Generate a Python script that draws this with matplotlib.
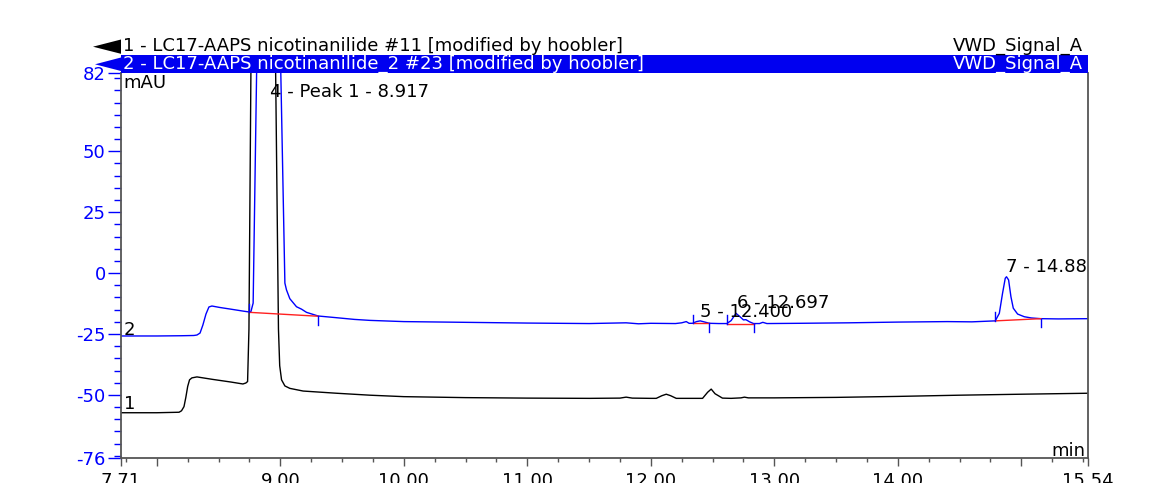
import matplotlib
matplotlib.use('Agg')
import matplotlib.pyplot as plt
from matplotlib.patches import Rectangle, Polygon
from matplotlib.ticker import FixedLocator, MultipleLocator

# ---------------- data ----------------
trace1_name = "1 - LC17-AAPS nicotinanilide #11 [modified by hoobler]"
trace2_name = "2 - LC17-AAPS nicotinanilide_2 #23 [modified by hoobler]"
signal_name = "VWD_Signal_A"

t1 = [7.71, 8.00, 8.18, 8.20, 8.22, 8.235, 8.25, 8.265, 8.284, 8.325,
      8.45, 8.60, 8.697, 8.721, 8.735, 8.746, 8.762, 8.80, 8.87, 8.93,
      8.962, 8.985, 8.995, 9.010, 9.037, 9.077, 9.185, 9.455, 9.725, 10.0,
      10.5, 11.0, 11.5, 11.75, 11.8, 11.85, 12.0, 12.044, 12.09, 12.125,
      12.16, 12.206, 12.30, 12.419, 12.46, 12.489, 12.52, 12.58, 12.65, 12.73,
      12.758, 12.79, 13.0, 13.5, 14.0, 14.5, 15.0, 15.54]
v1 = [-57.3, -57.3, -57.1, -56.5, -54.8, -51.0, -46.5, -43.8, -43.0, -42.6,
      -43.6, -44.7, -45.5, -45.1, -44.5, -23.0, 83, 400, 600, 400,
      83, -23, -38, -43.8, -46.3, -47.3, -48.4, -49.3, -50.1, -50.7,
      -51.1, -51.3, -51.4, -51.3, -50.9, -51.3, -51.4, -51.4, -50.3, -49.7,
      -50.3, -51.4, -51.4, -51.4, -48.9, -47.6, -49.5, -51.3, -51.4, -51.2,
      -50.9, -51.2, -51.2, -51.0, -50.6, -50.1, -49.7, -49.3]

t2 = [7.71, 8.00, 8.20, 8.30, 8.325, 8.35, 8.373, 8.398, 8.422, 8.446,
      8.51, 8.60, 8.70, 8.754, 8.762, 8.780, 8.808, 8.86, 8.917, 8.96,
      9.004, 9.037, 9.05, 9.077, 9.131, 9.172, 9.212, 9.306, 9.455, 9.60,
      9.725, 10.0, 10.5, 11.0, 11.5, 11.8, 11.9, 12.0, 12.2, 12.25, 12.287,
      12.31, 12.338, 12.37, 12.40, 12.43, 12.475, 12.55, 12.615, 12.65, 12.69,
      12.72, 12.75, 12.77, 12.80, 12.832, 12.88, 12.907, 12.94, 13.2, 13.6,
      14.0, 14.4, 14.6, 14.789, 14.822, 14.848, 14.87, 14.88, 14.897, 14.916,
      14.935, 14.97, 15.024, 15.08, 15.159, 15.3, 15.54]
v2 = [-25.8, -25.8, -25.7, -25.6, -25.4, -24.6, -21.3, -16.8, -13.9, -13.5,
      -14.1, -14.8, -15.6, -16.0, -15.8, -12.3, 82, 300, 400, 300,
      82, -4.1, -6.9, -10.5, -13.8, -14.8, -16.1, -17.6, -18.3, -19.0,
      -19.4, -19.9, -20.2, -20.5, -20.7, -20.4, -20.8, -20.6, -20.7, -20.4, -19.9,
      -20.6, -20.6, -19.9, -19.6, -20.0, -20.6, -20.7, -20.7, -19.5, -16.5,
      -17.8, -19.2, -19.1, -20.0, -20.7, -20.7, -20.2, -20.7, -20.6, -20.4,
      -20.1, -19.9, -20.0, -19.6, -16.5, -8.3, -2.1, -1.5, -2.8, -9.7,
      -14.4, -16.8, -17.9, -18.4, -18.7, -18.8, -18.7]

peak_labels = ["4 - Peak 1 - 8.917", "5 - 12.400", "6 - 12.697", "7 - 14.880"]
peak_apex_t = [8.917, 12.400, 12.697, 14.880]
peak_label_v = [74.3, -15.8, -12.4, 2.6]
peak_start_t = [8.750, 12.338, 12.615, 14.789]
peak_start_v = [-16.1, -20.6, -20.7, -19.6]
peak_end_t = [9.306, 12.475, 12.832, 15.159]
peak_end_v = [-17.7, -20.6, -20.7, -18.7]

x_ticks = [7.71, 8, 9, 10, 11, 12, 13, 14, 15, 15.54]
x_ticklabels = ["7.71", "", "9.00", "10.00", "11.00", "12.00", "13.00", "14.00", "", "15.54"]
y_ticks = [-76, -50, -25, 0, 25, 50, 82]
y_ticklabels = ["-76", "-50", "-25", "0", "25", "50", "82"]
x_range = (7.71, 15.54)
y_range = (-76, 82)

# ---------------- style ----------------
W, H = 1155, 483
FS = 13
BLUE = '#0000ff'
BAR_BLUE = '#0000f0'
SPINE = '#555555'
plt.rcParams['font.family'] = ['DejaVu Sans']


def fx(px):
    return px / W


def fy(py):
    return 1 - py / H


fig = plt.figure(figsize=(W / 100, H / 100), dpi=100)
fig.patch.set_facecolor('white')
ax_left, ax_right, ax_top, ax_bottom = 121, 1088, 73.3, 458.3
ax = fig.add_axes([fx(ax_left), fy(ax_bottom), (ax_right - ax_left) / W, (ax_bottom - ax_top) / H])

ax.plot(t1, v1, color='black', lw=1.0)
ax.plot(t2, v2, color=BLUE, lw=1.0)

# peak baselines and delimiters
for ts, vs, te, ve in zip(peak_start_t, peak_start_v, peak_end_t, peak_end_v):
    ax.plot([ts, te], [vs, ve], color='#ff2020', lw=1.0)
    ax.plot([ts, ts], [vs, vs + 3.5], color=BLUE, lw=1.0)
    ax.plot([te, te], [ve, ve - 3.5], color=BLUE, lw=1.0)

for lab, tx, vy in zip(peak_labels, peak_apex_t, peak_label_v):
    ax.text(tx, vy, lab, fontsize=FS, color='black', ha='left', va='center', clip_on=True)

ax.set_xlim(*x_range)
ax.set_ylim(*y_range)

ax.xaxis.set_major_locator(FixedLocator(x_ticks))
ax.set_xticklabels(x_ticklabels)
ax.xaxis.set_minor_locator(MultipleLocator(0.25))
ax.yaxis.set_major_locator(FixedLocator(y_ticks))
ax.set_yticklabels(y_ticklabels)
ax.yaxis.set_minor_locator(FixedLocator(list(range(-75, 81, 5))))

ax.tick_params(axis='x', which='major', direction='out', length=6, width=1.0,
               color=SPINE, labelsize=FS, labelcolor='black', pad=4)
ax.tick_params(axis='x', which='minor', direction='out', length=2.6, width=1.0, color=SPINE)
ax.tick_params(axis='y', which='major', direction='out', length=9.5, width=1.0,
               color=BLUE, labelsize=FS, labelcolor=BLUE, pad=1.5)
ax.tick_params(axis='y', which='minor', direction='out', length=5, width=1.0, color=BLUE)

for side in ['left', 'bottom', 'right']:
    ax.spines[side].set_color(SPINE)
    ax.spines[side].set_linewidth(1.3)
ax.spines['top'].set_visible(False)

ax.text(0.002, 0.975, "mAU", transform=ax.transAxes, fontsize=FS, ha='left', va='center')
ax.text(0.997, 0.02, "min", transform=ax.transAxes, fontsize=FS, ha='right', va='center')
ax.text(7.735, -53.8, "1", fontsize=FS, ha='left', va='center')
ax.text(7.735, -23.3, "2", fontsize=FS, ha='left', va='center')

# ---------------- header ----------------
fig.add_artist(Rectangle((fx(121), fy(73.3)), (1088 - 121) / W, (73.3 - 55) / H,
                         transform=fig.transFigure, facecolor=BAR_BLUE, edgecolor='none'))
fig.add_artist(Polygon([(fx(93), fy(46.7)), (fx(121), fy(39.5)), (fx(121), fy(53.8))],
                       closed=True, transform=fig.transFigure, facecolor='black', edgecolor='none'))
fig.add_artist(Polygon([(fx(95), fy(64.3)), (fx(121), fy(57.5)), (fx(121), fy(71))],
                       closed=True, transform=fig.transFigure, facecolor=BAR_BLUE, edgecolor='none'))
fig.text(fx(123.3), fy(50.8), trace1_name, fontsize=FS, color='black', ha='left', va='baseline')
fig.text(fx(123.3), fy(68.8), trace2_name, fontsize=FS, color='white', ha='left', va='baseline')
fig.text(fx(1083), fy(50.8), signal_name, fontsize=FS, color='black', ha='right', va='baseline')
fig.text(fx(1083), fy(68.8), signal_name, fontsize=FS, color='white', ha='right', va='baseline')

fig.savefig('out.png', dpi=100, facecolor='white')
